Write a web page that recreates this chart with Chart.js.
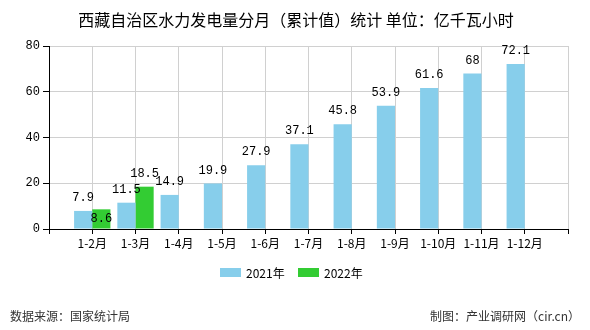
<!DOCTYPE html>
<html><head><meta charset="utf-8">
<script src="https://cdn.jsdelivr.net/npm/chart.js@4/dist/chart.umd.min.js"></script>
<style>html,body{margin:0;padding:0;background:#fff}#wrap{width:590px;height:330px}</style>
</head><body><div id="wrap"><canvas id="c" width="590" height="330"></canvas></div>
<script>
const categories = ['1-2月','1-3月','1-4月','1-5月','1-6月','1-7月','1-8月','1-9月','1-10月','1-11月','1-12月'];
const values2021 = [7.9, 11.5, 14.9, 19.9, 27.9, 37.1, 45.8, 53.9, 61.6, 68, 72.1];
const values2022 = [8.6, 18.5];
const yTicks = [0, 20, 40, 60, 80];
const titleText = '西藏自治区水力发电量分月（累计值）统计 单位：亿千瓦小时';
const sourceText = '数据来源：国家统计局';
const creditText = '制图：产业调研网（cir.cn）';

const labels = [''].concat(categories, ['']);
const pad = arr => [null].concat(categories.map((_, i) => (i < arr.length ? arr[i] : null)), [null]);

const CJK = "'Noto Sans CJK SC', 'Noto Sans', sans-serif";
const MONO = "'Liberation Mono', 'DejaVu Sans Mono', monospace";

const decor = {
  id: 'decor',
  afterDatasetsDraw(chart) {
    const ctx = chart.ctx;
    ctx.save();
    ctx.fillStyle = '#000';
    ctx.font = '12px ' + MONO;
    ctx.textAlign = 'center';
    ctx.textBaseline = 'middle';
    chart.data.datasets.forEach((ds, di) => {
      const meta = chart.getDatasetMeta(di);
      meta.data.forEach((el, i) => {
        const v = ds.data[i];
        if (v === null || v === undefined) return;
        const h = el.base - el.y;
        let y = el.y - 13;
        if (di === 1 && h < 22) y = (el.y + el.base) / 2;
        ctx.fillText(String(v), el.x, y);
      });
    });
    ctx.restore();
  },
  afterDraw(chart) {
    const ctx = chart.ctx;
    ctx.save();
    ctx.fillStyle = '#000';
    ctx.font = '16px ' + CJK;
    ctx.textAlign = 'center';
    ctx.textBaseline = 'middle';
    ctx.fillText(titleText, 296, 20);
    // legend
    ctx.font = '12px ' + CJK;
    ctx.textAlign = 'left';
    const items = [{x: 220, ds: 0}, {x: 298, ds: 1}];
    items.forEach(it => {
      const ds = chart.data.datasets[it.ds];
      ctx.fillStyle = ds.backgroundColor;
      ctx.fillRect(it.x, 268, 21, 9);
      ctx.fillStyle = '#000';
      ctx.fillText(ds.label, it.x + 26, 273);
    });
    // footer
    ctx.fillStyle = '#333';
    ctx.font = '12px ' + CJK;
    ctx.textAlign = 'left';
    ctx.fillText(sourceText, 10, 316);
    ctx.textAlign = 'right';
    ctx.fillText(creditText, 580, 316);
    ctx.restore();
  }
};

new Chart(document.getElementById('c'), {
  type: 'bar',
  data: {
    labels: labels,
    datasets: [
      {label: '2021年', data: pad(values2021), backgroundColor: '#87CEEB', categoryPercentage: 0.84, barPercentage: 1.0},
      {label: '2022年', data: pad(values2022), backgroundColor: '#33CC33', categoryPercentage: 0.84, barPercentage: 1.0}
    ]
  },
  options: {
    responsive: false,
    animation: false,
    devicePixelRatio: 1,
    layout: {padding: {left: 0, right: 22, top: 46, bottom: 71}},
    plugins: {legend: {display: false}, title: {display: false}, tooltip: {enabled: false}},
    scales: {
      x: {
        type: 'category',
        offset: false,
        grid: {offset: false, color: '#d0d0d0', tickColor: '#000', tickLength: 5, drawTicks: true},
        border: {color: '#000', width: 1},
        ticks: {color: '#000', font: {size: 12, family: CJK}, padding: 2, maxRotation: 0, autoSkip: false},
        afterFit(s) { s.height = 30; }
      },
      y: {
        min: 0, max: 80,
        afterBuildTicks(s) { s.ticks = yTicks.map(v => ({value: v})); },
        grid: {color: '#d0d0d0', tickColor: '#000', tickLength: 6},
        border: {color: '#000', width: 1},
        ticks: {color: '#000', font: {size: 12, family: MONO}, padding: 3},
        afterFit(s) { s.width = 49; }
      }
    }
  },
  plugins: [decor]
});
</script></body></html>
